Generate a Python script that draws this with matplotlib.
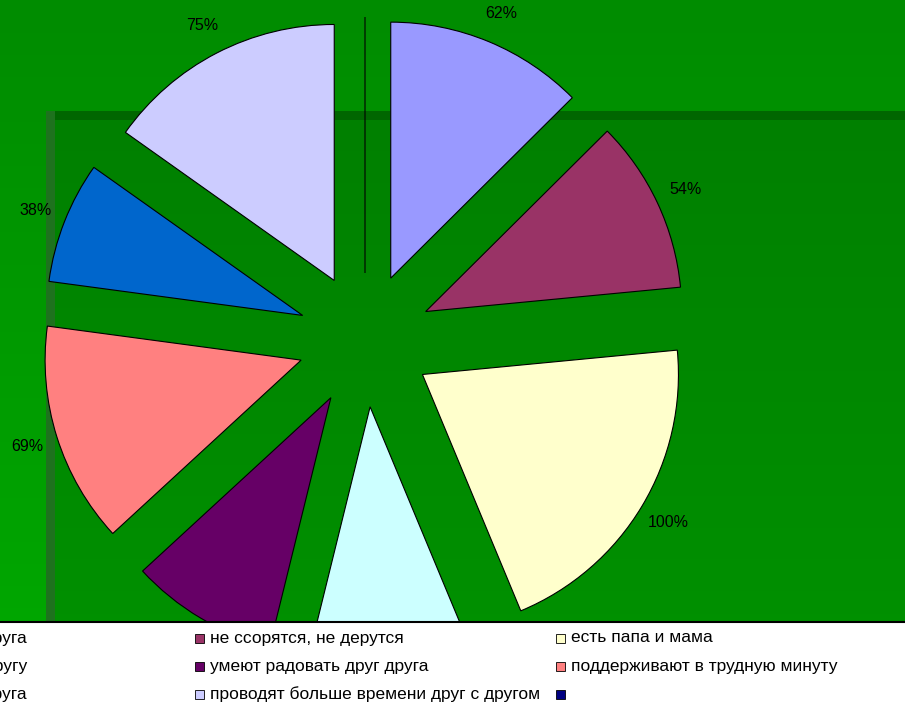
import numpy as np
import matplotlib
matplotlib.use('Agg')
import matplotlib.pyplot as plt
from matplotlib.patches import Rectangle

plt.rcParams['font.family'] = ['Liberation Sans', 'DejaVu Sans']

# slice values (percent of answers), clockwise from 12 o'clock
labels = [
    "уважают друг друга",
    "не ссорятся, не дерутся",
    "есть папа и мама",
    "помогают друг другу",
    "умеют радовать друг друга",
    "поддерживают в трудную минуту",
    "любят друг друга",
    "проводят больше времени друг с другом",
    "",
]
values = [62, 54, 100, 50, 46, 69, 38, 75, 0]
colors = ['#9999FF', '#993366', '#FFFFCC', '#CCFFFF', '#660066',
          '#FF8080', '#0066CC', '#CCCCFF', '#000080']

W, H = 905, 708
LEG_TOP = 622
fig = plt.figure(figsize=(W / 100, H / 100), dpi=100)

# background (chart area + plot area), pixel coordinates
bg = fig.add_axes([0, 0, 1, 1], zorder=0)
outer = np.zeros((64, 1, 3))
outer[:, 0, 1] = np.linspace(140, 170, 64) / 255
bg.imshow(outer, extent=(0, W, H, 0), aspect='auto')
inner = np.zeros((64, 1, 3))
inner[:, 0, 1] = np.linspace(128, 144, 64) / 255
bg.imshow(inner, extent=(55, W, LEG_TOP, 120), aspect='auto')
bg.add_patch(Rectangle((46, 111), W - 46, 9, color='#006600', lw=0))
bg.add_patch(Rectangle((46, 111), 9, LEG_TOP - 111, color='#1E721E', lw=0))
bg.set_xlim(0, W)
bg.set_ylim(H, 0)
bg.axis('off')

# pie, radius 256 px, centre at (365, 340) px
R = 256.0
cx, cy = 365.0, 340.0
ax = fig.add_axes([0, 0, 1, 1], zorder=1)
ax.patch.set_alpha(0)
total = sum(values)
wedges, texts, autotexts = ax.pie(
    values, colors=colors, startangle=90, counterclock=False,
    explode=[67 / R] * len(values), radius=1,
    wedgeprops=dict(edgecolor='black', linewidth=0.8),
    autopct=lambda p: f"{p * total / 100:.0f}%" if p > 0.01 else "",
    pctdistance=1.12, textprops=dict(fontsize=11.5, color='black'))
# labels that fall under the legend box are not visible in the chart
for t in autotexts:
    if t.get_position()[1] < -(LEG_TOP - cy) / R:
        t.set_visible(False)
ax.set_aspect('auto')
ax.set_xlim(-cx / R, (W - cx) / R)
ax.set_ylim(-(H - cy) / R, cy / R)
ax.axis('off')

# legend box at the bottom (partly cut off on the left)
lg = fig.add_axes([0, 0, 1, (H - LEG_TOP) / H], zorder=2)
lg.set_xlim(0, W)
lg.set_ylim(H, LEG_TOP)
lg.set_facecolor('white')
for s in ['left', 'right', 'bottom']:
    lg.spines[s].set_visible(False)
lg.spines['top'].set_linewidth(1.5)
lg.set_xticks([])
lg.set_yticks([])

col_x = [-163, 199, 560]
row_y = [638, 666, 694]
for i, (lab, col) in enumerate(zip(labels, colors)):
    r, c = divmod(i, 3)
    x, y = col_x[c], row_y[r]
    lg.add_patch(Rectangle((x - 4.5, y - 4.5), 9, 9, facecolor=col,
                           edgecolor='black', lw=0.6, clip_on=False))
    if c == 0:
        lg.text(27, y, lab, fontsize=12.5, ha='right', va='center')
    else:
        lg.text(x + 11, y, lab, fontsize=12.5, ha='left', va='center')

fig.savefig('out.png', dpi=100)
